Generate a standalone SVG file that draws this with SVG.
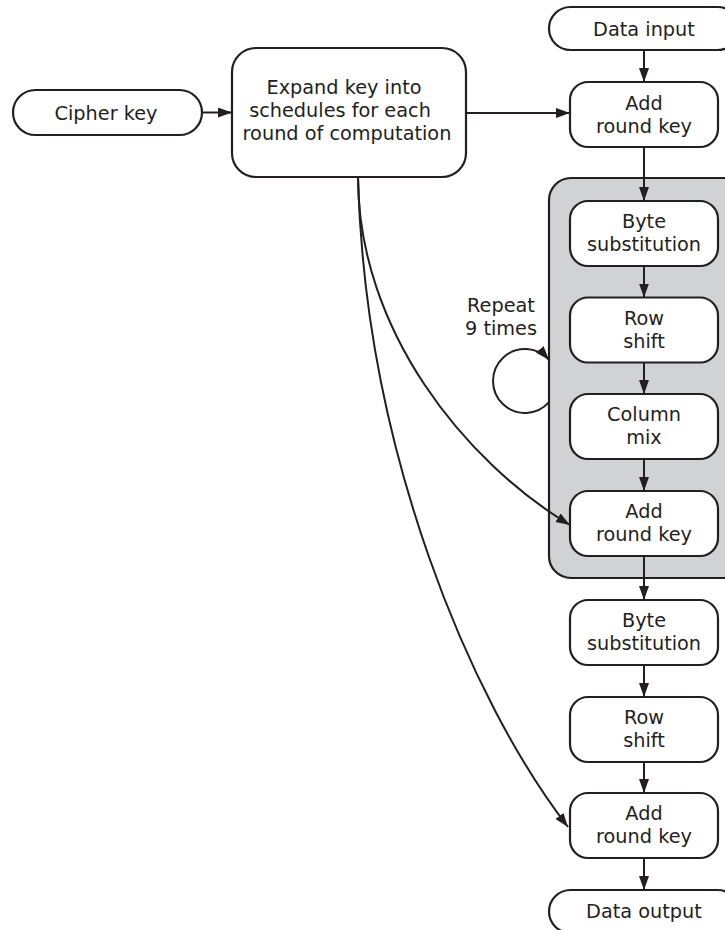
<svg xmlns="http://www.w3.org/2000/svg" width="725" height="930" viewBox="0 0 725 930">
<style>
  .box { fill: #ffffff; stroke: #231f20; stroke-width: 2.2; }
  .grp { fill: #d1d2d4; stroke: #231f20; stroke-width: 2.2; }
  .lbl { font-family: "DejaVu Sans", "Open Sans", sans-serif; font-size: 19.3px; fill: #231f20; text-anchor: middle; }
  .ln { fill: none; stroke: #231f20; stroke-width: 2; }
</style>
<defs>
  <marker id="ah" markerUnits="userSpaceOnUse" markerWidth="15" markerHeight="11" refX="14" refY="5" orient="auto">
    <path d="M0,0 L14,5 L0,10 z" fill="#231f20"/>
  </marker>
</defs>
<rect width="725" height="930" fill="#ffffff"/>

<g id="repeat-group">
  <rect class="grp" x="549" y="178" width="200" height="400" rx="22" ry="22"/>
</g>

<g id="cipher-key">
  <rect class="box" x="13" y="90" width="189" height="45" rx="22.5" ry="22.5"/>
  <text class="lbl" x="106" y="119.5">Cipher key</text>
</g>

<g id="expand-key">
  <rect class="box" x="232" y="48" width="234" height="129" rx="24" ry="24"/>
  <text class="lbl" x="344" y="94">Expand key into</text>
  <text class="lbl" x="340" y="117">schedules for each</text>
  <text class="lbl" x="347" y="140">round of computation</text>
</g>

<g id="data-input">
  <rect class="box" x="549" y="7" width="190" height="43" rx="21.5" ry="21.5"/>
  <text class="lbl" x="644" y="35.5">Data input</text>
</g>

<g id="add-round-key-1">
  <rect class="box" x="570" y="82" width="148" height="65" rx="18" ry="18"/>
  <text class="lbl" x="644" y="110">Add</text>
  <text class="lbl" x="644" y="133">round key</text>
</g>

<g id="byte-sub-1">
  <rect class="box" x="570" y="201" width="148" height="65" rx="18" ry="18"/>
  <text class="lbl" x="644" y="228">Byte</text>
  <text class="lbl" x="644" y="251">substitution</text>
</g>

<g id="row-shift-1">
  <rect class="box" x="570" y="297.5" width="148" height="65" rx="18" ry="18"/>
  <text class="lbl" x="644" y="324.5">Row</text>
  <text class="lbl" x="644" y="347.5">shift</text>
</g>

<g id="column-mix">
  <rect class="box" x="570" y="394" width="148" height="65" rx="18" ry="18"/>
  <text class="lbl" x="644" y="421">Column</text>
  <text class="lbl" x="644" y="444">mix</text>
</g>

<g id="add-round-key-2">
  <rect class="box" x="570" y="491" width="148" height="65" rx="18" ry="18"/>
  <text class="lbl" x="644" y="518">Add</text>
  <text class="lbl" x="644" y="541">round key</text>
</g>

<g id="byte-sub-2">
  <rect class="box" x="570" y="600" width="148" height="65" rx="18" ry="18"/>
  <text class="lbl" x="644" y="627">Byte</text>
  <text class="lbl" x="644" y="650">substitution</text>
</g>

<g id="row-shift-2">
  <rect class="box" x="570" y="697" width="148" height="65" rx="18" ry="18"/>
  <text class="lbl" x="644" y="724">Row</text>
  <text class="lbl" x="644" y="747">shift</text>
</g>

<g id="add-round-key-3">
  <rect class="box" x="570" y="793" width="148" height="65" rx="18" ry="18"/>
  <text class="lbl" x="644" y="820">Add</text>
  <text class="lbl" x="644" y="843">round key</text>
</g>

<g id="data-output">
  <rect class="box" x="549" y="890" width="190" height="43" rx="21.5" ry="21.5"/>
  <text class="lbl" x="644" y="917.5">Data output</text>
</g>

<g id="repeat-label">
  <text class="lbl" x="501" y="311.5">Repeat</text>
  <text class="lbl" x="501" y="334.5">9 times</text>
</g>

<g id="connectors">
  <path class="ln" d="M202,112.5 L232,112.5" marker-end="url(#ah)"/>
  <path class="ln" d="M466,113 L570,113" marker-end="url(#ah)"/>
  <path class="ln" d="M644,50 L644,82" marker-end="url(#ah)"/>
  <path class="ln" d="M644,147 L644,201" marker-end="url(#ah)"/>
  <path class="ln" d="M644,266 L644,297.5" marker-end="url(#ah)"/>
  <path class="ln" d="M644,362.5 L644,394" marker-end="url(#ah)"/>
  <path class="ln" d="M644,459 L644,491" marker-end="url(#ah)"/>
  <path class="ln" d="M644,556 L644,600" marker-end="url(#ah)"/>
  <path class="ln" d="M644,665 L644,697" marker-end="url(#ah)"/>
  <path class="ln" d="M644,762 L644,793" marker-end="url(#ah)"/>
  <path class="ln" d="M644,858 L644,890" marker-end="url(#ah)"/>
  <path class="ln" d="M358,177 C358,330 465,462 570,525" marker-end="url(#ah)"/>
  <path class="ln" d="M358,177 C365,450 470,700 568,827" marker-end="url(#ah)"/>
  <path class="ln" d="M549,402.2 A32,32 0 1 1 549,359.8" marker-end="url(#ah)"/>
</g>
</svg>
